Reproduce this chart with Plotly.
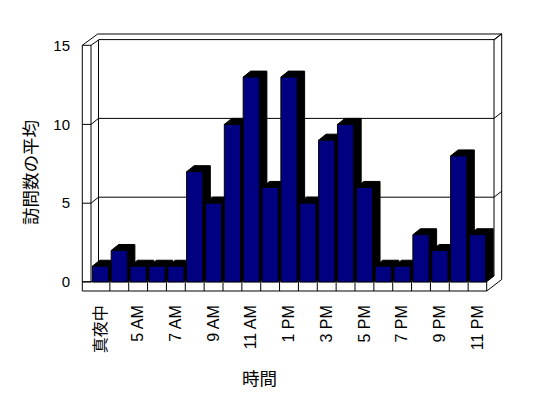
import plotly.graph_objects as go

# ---- data ----
hour_labels = ["真夜中", "4 AM", "5 AM", "6 AM", "7 AM", "8 AM", "9 AM", "10 AM", "11 AM",
               "正午", "1 PM", "2 PM", "3 PM", "4 PM", "5 PM", "6 PM", "7 PM", "8 PM",
               "9 PM", "10 PM", "11 PM"]
avg_visits = [1, 2, 1, 1, 1, 7, 5, 10, 13, 6, 13, 5, 9, 10, 6, 1, 1, 3, 2, 8, 3]
y_ticks = [0, 5, 10, 15]
x_title = "時間"
y_title = "訪問数の平均"

# ---- geometry helpers (pixel -> data) ----
W, H = 548, 398
L, R, T, B = 80, 44, 30, 103
CW = 396 / 21.0          # px per category
UY = 15.76               # px per unit
def dx_(p):
    return -0.5 + (p - 91) / CW
def dy_(p):
    return (282 - p) / UY
def px_paper(p):
    return (p - L) / (W - L - R)
def py_paper(p):
    return (H - B - p) / (H - T - B)

DX = 7.5 / CW
DY = 6.0 / UY
HW = 0.43

n = len(avg_visits)
idx = list(range(n))

# depth faces (top + side) as polygons
px_list, py_list = [], []
for i, v in zip(idx, avg_visits):
    xl, xr = i - HW, i + HW
    px_list += [xl, xl + DX, xr + DX, xr + DX, xr, xr, xl, None]
    py_list += [v, v + DY, v + DY, DY, 0, v, v, None]

fig = go.Figure()
fig.add_trace(go.Scatter(x=px_list, y=py_list, mode="lines", fill="toself",
                         fillcolor="black", line=dict(color="black", width=1),
                         hoverinfo="skip", showlegend=False, xaxis="x", yaxis="y"))
fig.add_trace(go.Bar(x=idx, y=avg_visits, width=2 * HW,
                     marker=dict(color="#000080", line=dict(color="black", width=1)),
                     showlegend=False, xaxis="x2", yaxis="y2"))

xr_ = [dx_(L), dx_(W - R)]
yr_ = [dy_(H - B), dy_(T)]

# ---- frame lines (pixels) ----
lines_px = [
    (97.7, 34, 501.7, 34), (501.7, 34, 501.7, 279.5),
    (494, 40, 501.7, 34),
    (98.5, 40, 98.5, 276), (494, 40, 494, 276), (98.5, 276, 494, 276),
    (82.3, 45.3, 82.3, 291), (91, 45.3, 91, 282), (82.3, 45.3, 91, 45.3),
    (82.3, 45.3, 97.7, 34), (91, 45.3, 98.5, 40),
    (82.3, 281.7, 486.7, 281.7), (82.3, 291, 486.7, 291), (486.7, 281.7, 486.7, 291),
    (486.7, 291, 501.7, 279.5), (486.7, 281.7, 494, 276),
]
shapes = []
def add_line(x0, y0, x1, y1):
    shapes.append(dict(type="line", xref="x", yref="y", x0=x0, y0=y0, x1=x1, y1=y1,
                       line=dict(color="black", width=1), layer="below"))
for (a, b, c, d) in lines_px:
    add_line(dx_(a), dy_(b), dx_(c), dy_(d))
for v in y_ticks[1:]:
    yb = v + DY
    add_line(dx_(98.5), yb, dx_(494), yb)
    add_line(dx_(494), yb, dx_(501.7), yb + DY)
for v in y_ticks[:-1]:
    add_line(dx_(82.3), v, dx_(91), v)
    add_line(dx_(91), v, dx_(98.5), v + DY)
for i in range(1, n):
    add_line(i - 0.5, 0, i - 0.5, dy_(291))

font_lat = "Liberation Sans, Arial, Noto Sans CJK JP"
fig.update_layout(
    width=W, height=H, margin=dict(l=L, r=R, t=T, b=B, pad=0),
    paper_bgcolor="white", plot_bgcolor="white",
    showlegend=False,
    xaxis=dict(range=xr_, tickvals=idx[::2], ticktext=hour_labels[::2], tickangle=-90,
               showgrid=False, zeroline=False, showline=False, ticks="",
               ticklabelstandoff=6,
               tickfont=dict(family=font_lat, size=16, color="black")),
    yaxis=dict(range=yr_, tickvals=y_ticks, showgrid=False, zeroline=False,
               showline=False, ticks="", ticklabelstandoff=9,
               tickfont=dict(family=font_lat, size=15, color="black")),
    xaxis2=dict(range=xr_, overlaying="x", visible=False),
    yaxis2=dict(range=yr_, overlaying="y", visible=False),
    shapes=shapes,
    annotations=[
        dict(text=y_title, x=px_paper(29), y=py_paper(173), xref="paper", yref="paper",
             xanchor="center", yanchor="middle",
             showarrow=False, textangle=-90,
             font=dict(family="Noto Sans CJK JP", size=17.5, color="black")),
        dict(text=x_title, x=px_paper(259), y=py_paper(377), xref="paper", yref="paper",
             xanchor="center", yanchor="middle",
             showarrow=False,
             font=dict(family="Noto Sans CJK JP", size=17.5, color="black")),
    ],
)
fig.write_html("out.html")
